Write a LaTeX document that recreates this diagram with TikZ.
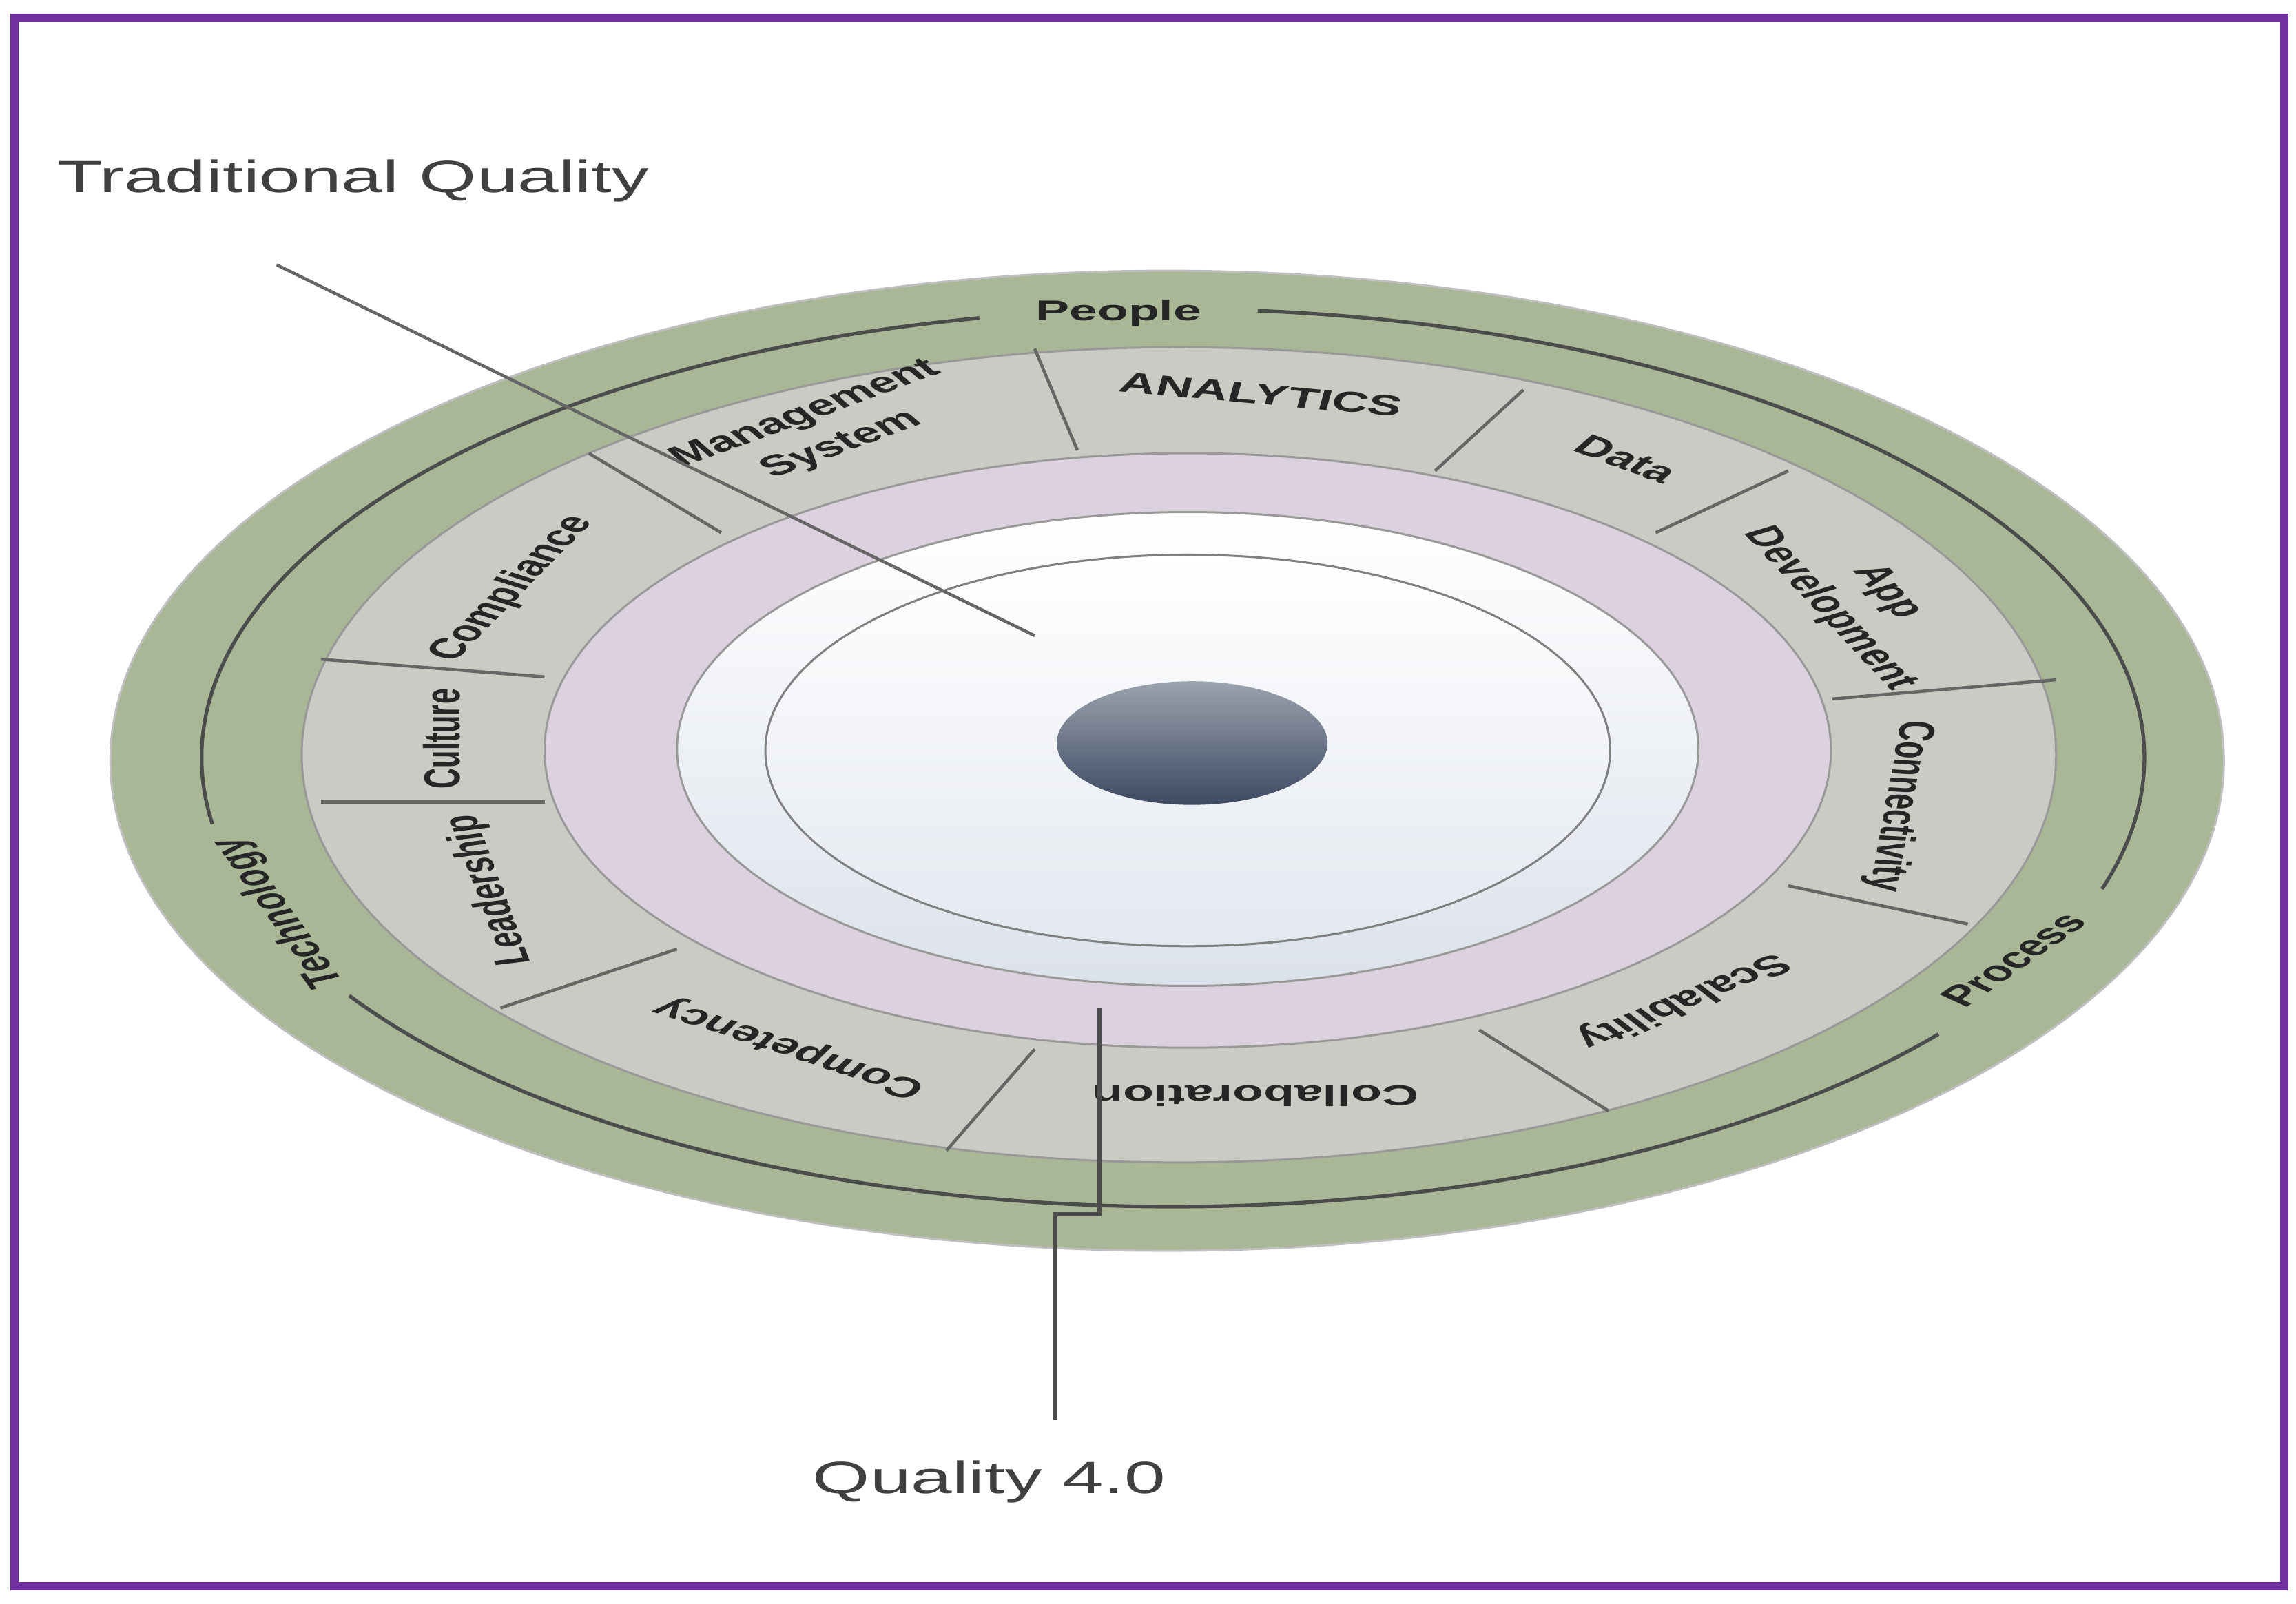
\documentclass[tikz,border=0pt]{standalone}
\usepackage{fontspec}
\setmainfont{Liberation Sans}
\usetikzlibrary{calc}
\definecolor{frame}{HTML}{7030A0}
\definecolor{ringgreen}{HTML}{AAB797}
\definecolor{ringgrey}{HTML}{CBCBC5}
\definecolor{ringpink}{HTML}{DCD1DE}
\definecolor{discblue}{HTML}{DCE2EB}
\definecolor{coredark}{HTML}{3E4962}
\definecolor{corelight}{HTML}{9AA3AE}
\tikzset{
  seg/.style={draw=black!60,line width=0.6pt},
  band/.style={draw=black!70,line width=0.7pt},
  squash/.style={xscale=1.15,yscale=0.65},
  lab/.style={draw=none,fill=none,squash,font=\fontsize{8.5}{11}\selectfont\bfseries,text=black!85,align=center},
  big/.style={draw=none,fill=none,xscale=1.14,yscale=0.7,font=\fontsize{12.5}{14}\selectfont,text=black!75}
}
\begin{document}
\begin{tikzpicture}[x=0.01cm,y=0.01cm]
  \useasboundingbox (0,0) rectangle (1560,1090);
  % Frame
  \draw[frame,line width=1.6pt] (10,12) rectangle (1552,1078);

  % Rings
  \fill[ringgreen,draw=black!25] (793,573) ellipse (718 and 333);
  \coordinate (bandc) at (797,575);
  \draw[band] (bandc) ++(101.5:660 and 305) arc[start angle=101.5,end angle=188.5,x radius=660,y radius=305];
  \draw[band] (bandc) ++(212:660 and 305) arc[start angle=212,end angle=322,x radius=660,y radius=305];
  \draw[band] (bandc) ++(-17:660 and 305) arc[start angle=-17,end angle=85,x radius=660,y radius=305];
  \fill[ringgrey,draw=black!40] (801,577) ellipse (596 and 277);
  \fill[ringpink,draw=black!40] (807,580) ellipse (437 and 202);
  \shade[top color=white,bottom color=discblue,draw=black!40] (807,581) ellipse (347 and 161);
  \shade[top color=white,bottom color=discblue!80,draw=black!50] (807,580) ellipse (287 and 133);
  \shade[top color=corelight,bottom color=coredark] (810,585) ellipse (92 and 42);

  % Dividers
  \draw[seg] (703,853) -- (732,784);
  \draw[seg] (1035,825) -- (975,770);
  \draw[seg] (1215,770) -- (1125,728);
  \draw[seg] (1397,628) -- (1245,615);
  \draw[seg] (1337,462) -- (1215,488);
  \draw[seg] (1093,335) -- (1005,390);
  \draw[seg] (703,377) -- (643,308);
  \draw[seg] (460,445) -- (340,405);
  \draw[seg] (370,545) -- (218,545);
  \draw[seg] (370,630) -- (218,642);
  \draw[seg] (400,782) -- (490,728);

  % Outer labels
  \node[lab] (people) at (760,877) {People};
  \node[lab,rotate=112] (technology) at (190,470) {Technology};
  \node[lab,rotate=51] (process) at (1368,438) {Process};

  % Segment labels
  \node[lab,rotate=-9] (analytics) at (857,822) {ANALYTICS};
  \node[lab,rotate=33] (mgmt) at (560,798) {Management\\System};
  \node[lab,rotate=-33] (data) at (1105,778) {Data};
  \node[lab,rotate=-62] (appdev) at (1262,682) {App\\Development};
  \node[lab,rotate=-96] (connect) at (1290,542) {Connectivity};
  \node[lab,rotate=-144] (scal) at (1143,410) {Scalability};
  \node[lab,rotate=180] (collab) at (853,345) {Collaboration};
  \node[lab,rotate=150] (compet) at (537,378) {Competency};
  \node[lab,rotate=102] (leader) at (333,485) {Leadership};
  \node[lab,rotate=90] (culture) at (300,588) {Culture};
  \node[lab,rotate=61] (compl) at (348,690) {Compliance};

  % Leaders
  \node[big] (tradq) at (240,967) {Traditional Quality};
  \node[big] (q40) at (672,83) {Quality 4.0};
  \coordinate (tstart) at (188,910);
  \coordinate (tend) at (703,658);
  \draw[black!60,line width=0.6pt] (tstart) -- (tend);
  \coordinate (qtop) at (747,405);
  \coordinate (qbot) at (717,125);
  \draw[black!70,line width=0.8pt] (qtop) |- (732,265) -| (qbot);
\end{tikzpicture}
\end{document}
